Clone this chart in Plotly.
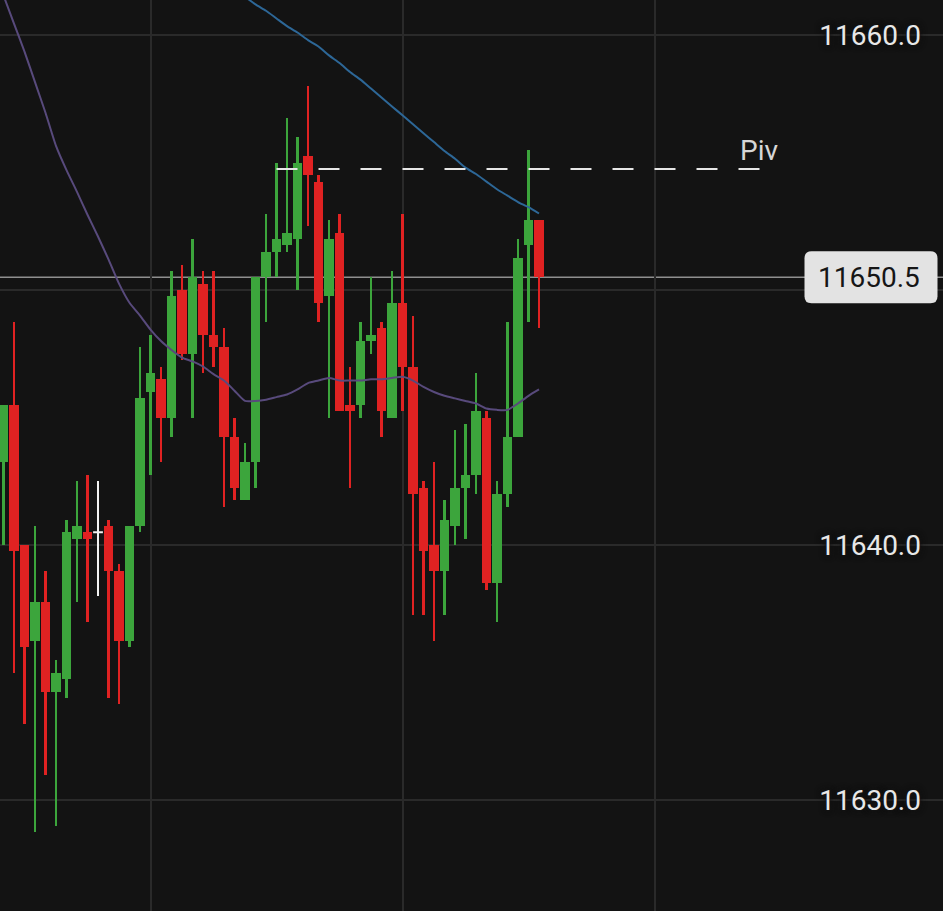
import plotly.graph_objects as go

# ---------------- data ----------------
candle_idx = list(range(52))

open_ = [11643.25, 11645.5, 11640.0, 11636.25, 11637.75, 11634.25, 11634.75, 11640.25, 11640.5, 11640.5,
         11640.75, 11639.0, 11636.25, 11640.75, 11646.0, 11646.5, 11645.0, 11650.0, 11647.5, 11650.25,
         11648.25, 11647.75, 11644.25, 11641.75, 11643.25, 11650.5, 11651.5, 11651.75, 11652.0, 11655.25,
         11654.25, 11649.75, 11652.25, 11645.5, 11645.5, 11648.0, 11648.5, 11645.0, 11649.5, 11647.0,
         11642.25, 11640.0, 11639.0, 11640.75, 11642.25, 11642.75, 11645.0, 11638.5, 11642.0, 11644.25,
         11651.75, 11652.75]

high = [11645.5, 11648.75, 11640.0, 11640.75, 11639.0, 11635.5, 11641.0, 11642.5, 11642.75, 11642.5,
        11641.0, 11639.25, 11640.75, 11647.75, 11648.25, 11647.0, 11650.75, 11651.0, 11652.0, 11650.75,
        11650.75, 11648.5, 11645.0, 11644.0, 11650.5, 11653.0, 11655.0, 11656.75, 11656.0, 11658.0,
        11654.5, 11652.75, 11653.0, 11647.0, 11648.75, 11650.5, 11648.75, 11650.75, 11653.0, 11649.0,
        11642.5, 11643.25, 11641.75, 11644.5, 11644.75, 11646.75, 11645.25, 11642.5, 11648.75, 11652.0,
        11655.5, 11652.75]

low = [11640.0, 11635.0, 11633.0, 11628.75, 11631.0, 11629.0, 11634.0, 11637.75, 11637.0, 11638.0,
       11634.0, 11633.75, 11636.0, 11640.5, 11642.75, 11643.25, 11644.25, 11647.25, 11645.0, 11646.75,
       11647.0, 11641.5, 11641.75, 11641.75, 11642.25, 11648.75, 11650.5, 11651.5, 11650.0, 11652.5,
       11648.75, 11645.0, 11645.25, 11642.25, 11645.0, 11647.5, 11644.25, 11645.0, 11645.25, 11637.25,
       11637.25, 11636.25, 11637.25, 11640.0, 11640.25, 11642.0, 11638.25, 11637.0, 11641.5, 11644.25,
       11648.75, 11648.5]

close = [11645.5, 11639.75, 11636.0, 11637.75, 11634.25, 11635.0, 11640.5, 11640.75, 11640.25, 11640.5,
         11639.0, 11636.25, 11640.75, 11645.75, 11646.75, 11645.0, 11649.75, 11647.5, 11650.5, 11648.25,
         11647.75, 11644.25, 11642.25, 11643.25, 11650.5, 11651.5, 11652.0, 11652.25, 11655.0, 11654.5,
         11649.5, 11652.0, 11645.25, 11645.25, 11648.0, 11648.25, 11645.25, 11649.5, 11647.0, 11642.0,
         11639.75, 11639.0, 11641.0, 11642.25, 11642.75, 11645.25, 11638.5, 11642.0, 11644.25, 11651.25,
         11652.75, 11650.5]

slow_ma = [None] * 23 + [11661.5, 11661.2, 11660.95, 11660.65, 11660.35, 11660.1, 11659.8, 11659.55,
                         11659.2, 11658.9, 11658.55, 11658.25, 11657.9, 11657.55, 11657.2, 11656.85,
                         11656.5, 11656.15, 11655.8, 11655.45, 11655.15, 11654.8, 11654.55, 11654.25,
                         11653.95, 11653.7, 11653.45, 11653.25, 11653.0]

fast_ma = [11661.55, 11660.45, 11659.35, 11658.15, 11656.95, 11655.65, 11654.7, 11653.85, 11652.95, 11652.1,
           11651.2, 11650.25, 11649.5, 11649.0, 11648.45, 11648.0, 11647.65, 11647.35, 11647.2, 11647.0,
           11646.7, 11646.45, 11646.05, 11645.65, 11645.65, 11645.7, 11645.8, 11645.9, 11646.1, 11646.35,
           11646.45, 11646.55, 11646.45, 11646.45, 11646.45, 11646.5, 11646.5, 11646.55, 11646.6, 11646.45,
           11646.2, 11646.0, 11645.85, 11645.75, 11645.65, 11645.55, 11645.35, 11645.3, 11645.3, 11645.55,
           11645.85, 11646.1]

piv_level = 11654.75
piv_start, piv_end = 26, 72
piv_label = "Piv"
tick_vals = [11630.0, 11640.0, 11650.0, 11660.0]
# the 11650.0 label sits under the last-price badge in the reference, so it is left blank
tick_text = ["11630.0", "11640.0", "", "11660.0"]

# ---------------- style ----------------
BG = "#131313"
GRID = "#2a2a2a"
GREEN = "#3ca53c"
RED = "#e02222"
DOJI = "#f2f2f2"
BLUE = "#2d6797"
PURPLE = "#584a7c"
FONT = "Roboto"

colors = [GREEN if c > o else (RED if c < o else DOJI) for o, c in zip(open_, close)]
wick_len = [h - l for h, l in zip(high, low)]
body_len = [c - o for o, c in zip(open_, close)]

fig = go.Figure()
fig.add_trace(go.Bar(x=candle_idx, y=wick_len, base=low, width=0.25,
                     marker=dict(color=colors, line=dict(width=0)), hoverinfo="skip"))
fig.add_trace(go.Bar(x=candle_idx, y=body_len, base=open_, width=0.89,
                     marker=dict(color=colors, line=dict(width=0)), hoverinfo="skip"))
doji_x = [i for i, o, c in zip(candle_idx, open_, close) if o == c]
doji_y = [o for o, c in zip(open_, close) if o == c]
fig.add_trace(go.Scatter(x=doji_x, y=doji_y, mode="markers",
                         marker=dict(symbol="line-ew", size=7, line=dict(color=DOJI, width=2)),
                         hoverinfo="skip"))
fig.add_trace(go.Scatter(x=candle_idx, y=fast_ma, mode="lines",
                         line=dict(color=PURPLE, width=2, shape="spline", smoothing=0.6),
                         hoverinfo="skip"))
fig.add_trace(go.Scatter(x=candle_idx, y=slow_ma, mode="lines",
                         line=dict(color=BLUE, width=2, shape="spline", smoothing=0.6),
                         hoverinfo="skip"))

W, H = 943, 911
y_lo, y_hi = 11625.647, 11661.373
x_lo, x_hi = -0.333, 89.476
px_per_unit = H / (y_hi - y_lo)

last = close[-1]

# current price line
fig.add_shape(type="line", xref="paper", x0=0, x1=1, yref="y", y0=last, y1=last,
              line=dict(color="#8f8f8f", width=1.5), layer="below")
# pivot dashed line
fig.add_shape(type="line", xref="x", x0=piv_start, x1=piv_end, yref="y", y0=piv_level, y1=piv_level,
              line=dict(color="#e6e6e6", width=2, dash="21px,21px"), layer="above")

# price badge (rounded rectangle)
bx0, bx1 = 804.5 / W, 937.5 / W
half_h = 26 / px_per_unit
by0, by1 = last - half_h, last + half_h
rx, ry = 7 / W, 7 / px_per_unit
path = (f"M {bx0+rx},{by0} L {bx1-rx},{by0} Q {bx1},{by0} {bx1},{by0+ry} "
        f"L {bx1},{by1-ry} Q {bx1},{by1} {bx1-rx},{by1} L {bx0+rx},{by1} "
        f"Q {bx0},{by1} {bx0},{by1-ry} L {bx0},{by0+ry} Q {bx0},{by0} {bx0+rx},{by0} Z")
fig.add_shape(type="path", path=path, xref="paper", yref="y",
              fillcolor="#e3e3e3", line=dict(width=0), layer="above")
fig.add_annotation(text=f"{last:.1f}", xref="paper", x=868.5 / W, yref="y", y=last,
                   xanchor="center", yanchor="middle", showarrow=False,
                   font=dict(family=FONT, size=28, color="#161616"))
fig.add_annotation(text=piv_label, xref="x", x=69.95, yref="y", y=piv_level,
                   xanchor="left", yanchor="middle", yshift=18, showarrow=False,
                   font=dict(family=FONT, size=28, color="#d6d6d6"))

fig.update_layout(
    width=W, height=H, margin=dict(l=0, r=0, t=0, b=0),
    paper_bgcolor=BG, plot_bgcolor=BG, showlegend=False,
    barmode="overlay", bargap=0,
    xaxis=dict(range=[x_lo, x_hi], showticklabels=False, showgrid=True, gridcolor=GRID, gridwidth=2,
               tick0=14, dtick=24, zeroline=False, showline=False, fixedrange=True),
    yaxis=dict(range=[y_lo, y_hi], side="right", showgrid=True, gridcolor=GRID, gridwidth=2,
               tickmode="array", tickvals=tick_vals, ticktext=tick_text,
               ticklabelposition="inside", ticks="", ticklabelstandoff=19,
               tickfont=dict(family=FONT, size=28, color="#e8e8e8",
                             shadow="0 0 3px #131313, 0 0 5px #131313, 0 0 7px #131313"),
               zeroline=False, showline=False, fixedrange=True),
    hovermode=False,
)

fig.write_html("out.html", config={"displayModeBar": False, "staticPlot": True},
               post_script="document.body.style.margin='0';document.body.style.overflow='hidden';")
